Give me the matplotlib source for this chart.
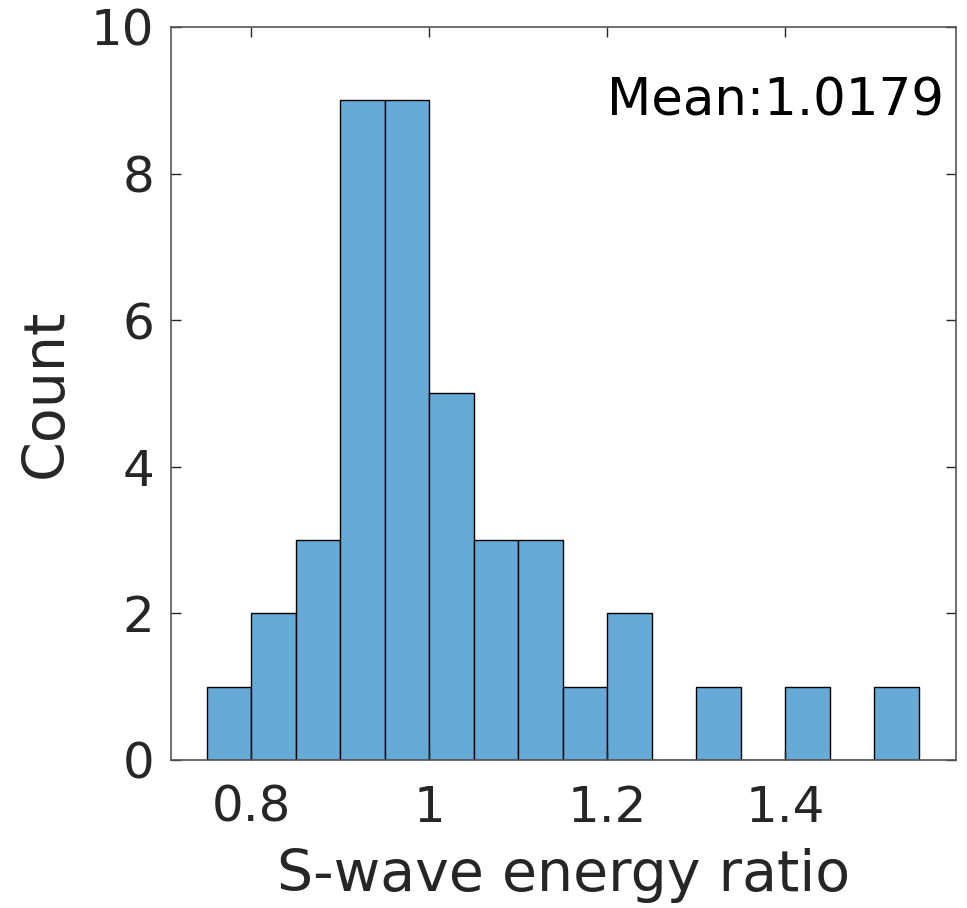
import matplotlib
matplotlib.use('Agg')
import matplotlib.pyplot as plt
import numpy as np

# histogram bins (edges) and counts
bin_edges = [0.75, 0.80, 0.85, 0.90, 0.95, 1.00, 1.05, 1.10, 1.15,
             1.20, 1.25, 1.30, 1.35, 1.40, 1.45, 1.50, 1.55]
counts = [1, 2, 3, 9, 9, 5, 3, 3, 1, 2, 0, 1, 0, 1, 0, 1]
mean_label = 'Mean:1.0179'

xticks = [0.8, 1.0, 1.2, 1.4]
xticklabels = ['0.8', '1', '1.2', '1.4']
yticks = [0, 2, 4, 6, 8, 10]

TickSize = 36
LabelSize = 41
TextSize = 37
axcol = '#262626'
barcol = '#66AAD7'

plt.rc('font', family='DejaVu Sans')

fig = plt.figure(figsize=(9.67, 9.08), dpi=100)
ax = fig.add_axes([0.1768, 0.163, 0.8118, 0.8073])

edges = np.array(bin_edges)
ax.bar(edges[:-1], counts, width=np.diff(edges), align='edge',
       color=barcol, edgecolor='black', linewidth=1.0)

ax.set_xlim(0.71, 1.592)
ax.set_ylim(0, 10)
ax.set_xticks(xticks)
ax.set_xticklabels(xticklabels)
ax.set_yticks(yticks)

ax.tick_params(direction='in', length=7, width=1, colors=axcol,
               labelsize=TickSize, top=True, right=True)
ax.tick_params(axis='x', pad=17)
ax.tick_params(axis='y', pad=12)
for s in ax.spines.values():
    s.set_color('#555555')
    s.set_linewidth(1.2)

ax.set_xlabel('S-wave energy ratio', fontsize=LabelSize, color=axcol, labelpad=12)
ax.set_ylabel('Count', fontsize=LabelSize, color=axcol, labelpad=12)

ax.text(0.985, 0.898, mean_label, transform=ax.transAxes, ha='right',
        va='center', fontsize=TextSize, color='black')

plt.savefig('out.png', dpi=100)
